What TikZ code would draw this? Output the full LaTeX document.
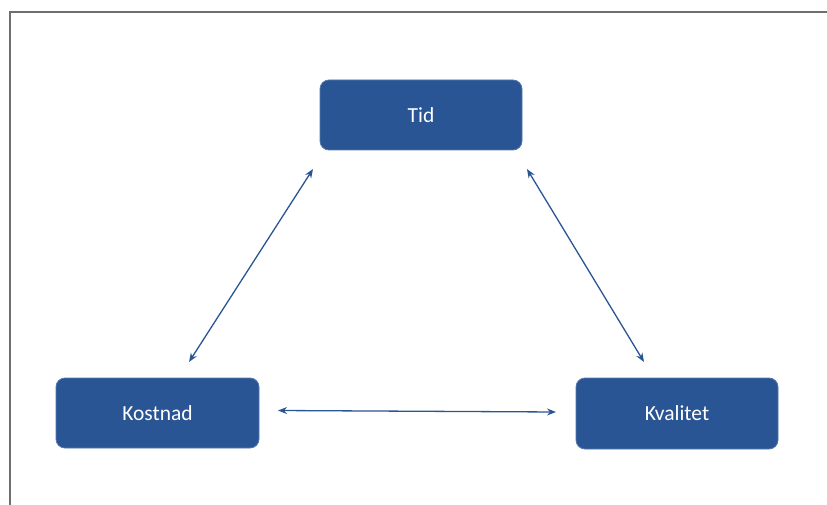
\documentclass[tikz,border=0pt]{standalone}
\usepackage{fontspec}
\setmainfont{Carlito}
\usetikzlibrary{arrows.meta}
\definecolor{boxblue}{HTML}{2A5595}
\definecolor{framegray}{HTML}{6E6E6E}
\tikzset{
  box/.style={draw=boxblue!80!white, line width=0.8pt, fill=boxblue, rounded corners=9pt,
    text=white, font=\fontsize{21.5}{24}\selectfont, inner sep=0pt},
  link/.style={draw=boxblue, line width=1.3pt, {Stealth[length=9pt,width=7pt]}-{Stealth[length=9pt,width=7pt]}}
}
\begin{document}
\begin{tikzpicture}[x=1pt,y=-1pt]
\useasboundingbox (0,0) rectangle (827,505);
\draw[framegray, line width=1.8pt] (10,506) -- (10,12) -- (828,12);
\node[box, minimum width=202pt, minimum height=70pt] (tid) at (421,115) {Tid};
\node[box, minimum width=203pt, minimum height=70pt] (kost) at (157.5,413) {Kostnad};
\node[box, minimum width=202pt, minimum height=71pt] (kval) at (677,413.5) {Kvalitet};
\coordinate (a1) at (313,169);
\coordinate (a2) at (189,362);
\coordinate (b1) at (527,169);
\coordinate (b2) at (644,362);
\coordinate (c1) at (278,410.5);
\coordinate (c2) at (556,412);
\draw[link] (a1) -- (a2);
\draw[link] (b1) -- (b2);
\draw[link] (c1) -- (c2);
\end{tikzpicture}
\end{document}
